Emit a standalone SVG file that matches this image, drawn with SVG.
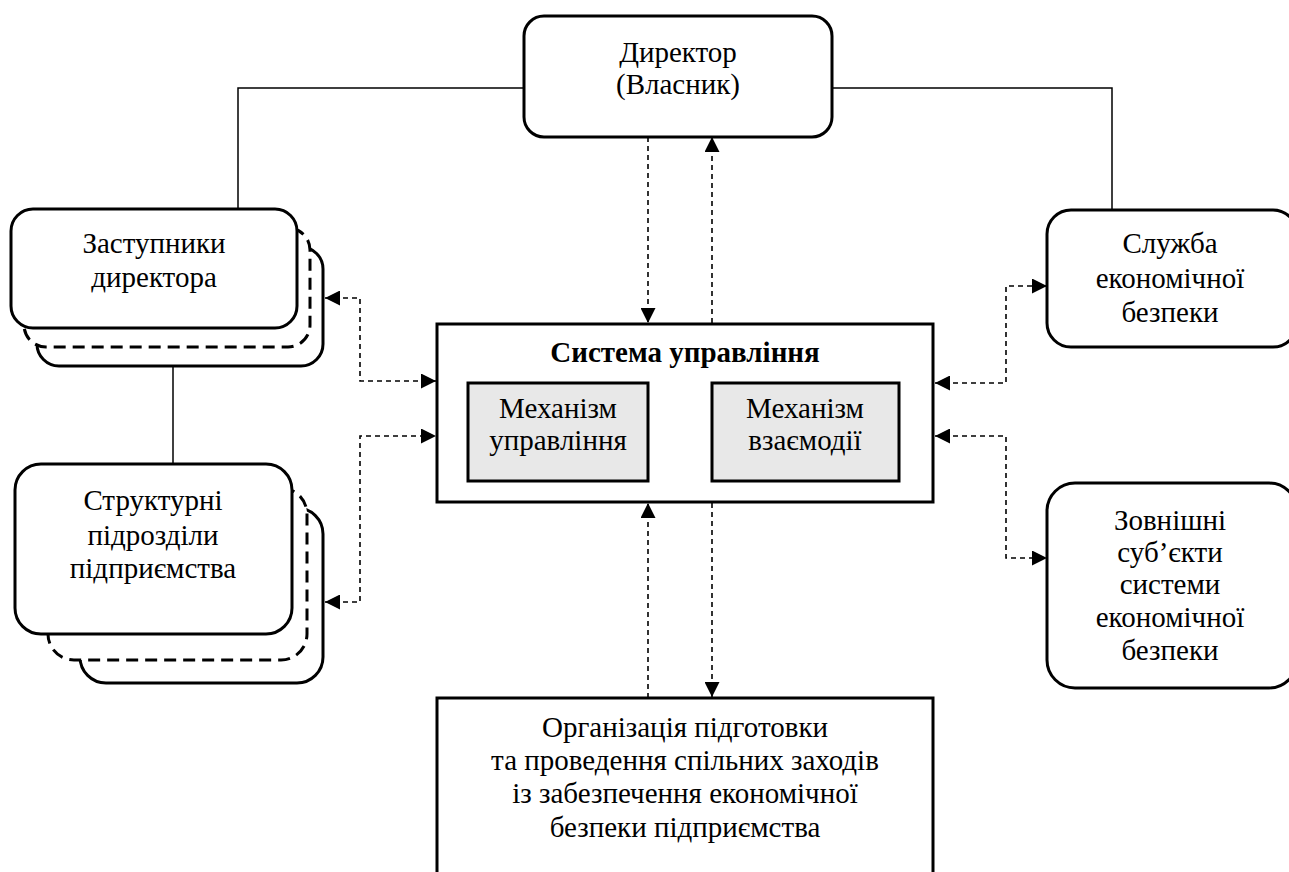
<svg xmlns="http://www.w3.org/2000/svg" width="1289" height="872" viewBox="0 0 1289 872">
<style>
.box{fill:#fff;stroke:#000;stroke-width:3}
.dbox{fill:#fff;stroke:#000;stroke-width:3;stroke-dasharray:12 7}
.gray{fill:#e8e8e8;stroke:#000;stroke-width:3}
text{font-family:'Liberation Serif','Times New Roman','DejaVu Serif',serif;font-size:29px;text-anchor:middle;fill:#000}
.b{font-weight:bold}
.solid{fill:none;stroke:#000;stroke-width:1.5}
.dash{fill:none;stroke:#000;stroke-width:1.6;stroke-dasharray:5 4}
</style>
<defs>
<marker id="ah" viewBox="0 0 15 15" refX="15" refY="7.5" markerWidth="15" markerHeight="15" markerUnits="userSpaceOnUse" orient="auto-start-reverse">
<path d="M0,0 L15,7.5 L0,15 z" fill="#000"/>
</marker>
</defs>
<rect width="1289" height="872" fill="#fff"/>
<g id="connectors">
<path class="solid" d="M238,210 V88 H524"/>
<path class="solid" d="M832,88 H1112 V210"/>
<path class="solid" d="M173,366 V464"/>
<path class="dash" d="M648,137 V323" marker-end="url(#ah)"/>
<path class="dash" d="M712,323 V137" marker-end="url(#ah)"/>
<path class="dash" d="M325,298 H360 V381 H436" marker-start="url(#ah)" marker-end="url(#ah)"/>
<path class="dash" d="M325,602 H360 V436 H436" marker-start="url(#ah)" marker-end="url(#ah)"/>
<path class="dash" d="M935,383 H1006 V286 H1047" marker-start="url(#ah)" marker-end="url(#ah)"/>
<path class="dash" d="M935,436 H1006 V558 H1047" marker-start="url(#ah)" marker-end="url(#ah)"/>
<path class="dash" d="M649,414 H711" marker-end="url(#ah)"/>
<path class="dash" d="M711,447 H649" marker-end="url(#ah)"/>
<path class="dash" d="M648,698 V503" marker-end="url(#ah)"/>
<path class="dash" d="M712,503 V697" marker-end="url(#ah)"/>
</g>
<g id="director">
<rect class="box" x="524" y="16" width="308" height="121" rx="20"/>
<text x="678" y="62">Директор</text>
<text x="678" y="94">(Власник)</text>
</g>
<g id="deputies">
<rect class="box" x="37" y="247" width="286" height="119" rx="22"/>
<rect class="dbox" x="24" y="228" width="286" height="119" rx="22"/>
<rect class="box" x="11" y="209" width="286" height="119" rx="22"/>
<text x="154" y="253">Заступники</text>
<text x="154" y="287">директора</text>
</g>
<g id="units">
<rect class="box" x="80" y="508" width="243" height="175" rx="26"/>
<rect class="dbox" x="48" y="488" width="259" height="172" rx="26"/>
<rect class="box" x="15" y="464" width="277" height="170" rx="26"/>
<text x="153" y="510">Структурні</text>
<text x="153" y="545">підрозділи</text>
<text x="153" y="578">підприємства</text>
</g>
<g id="system">
<rect class="box" x="437" y="324" width="496" height="178"/>
<text class="b" x="685" y="362">Система управління</text>
</g>
<g id="mech-control">
<rect class="gray" x="468" y="383" width="180" height="98"/>
<text x="558" y="418">Механізм</text>
<text x="558" y="450">управління</text>
</g>
<g id="mech-interaction">
<rect class="gray" x="712" y="383" width="187" height="98"/>
<text x="805" y="418">Механізм</text>
<text x="805" y="450">взаємодії</text>
</g>
<g id="security-service">
<rect class="box" x="1047" y="210" width="250" height="137" rx="24"/>
<text x="1170" y="253">Служба</text>
<text x="1170" y="288">економічної</text>
<text x="1170" y="322">безпеки</text>
</g>
<g id="external">
<rect class="box" x="1047" y="483" width="250" height="205" rx="28"/>
<text x="1170" y="530">Зовнішні</text>
<text x="1170" y="562">суб’єкти</text>
<text x="1170" y="594">системи</text>
<text x="1170" y="627">економічної</text>
<text x="1170" y="660">безпеки</text>
</g>
<g id="joint-measures">
<rect class="box" x="437" y="698" width="496" height="190"/>
<text x="685" y="737">Організація підготовки</text>
<text x="685" y="770">та проведення спільних заходів</text>
<text x="685" y="803">із забезпечення економічної</text>
<text x="685" y="837">безпеки підприємства</text>
</g>
</svg>
